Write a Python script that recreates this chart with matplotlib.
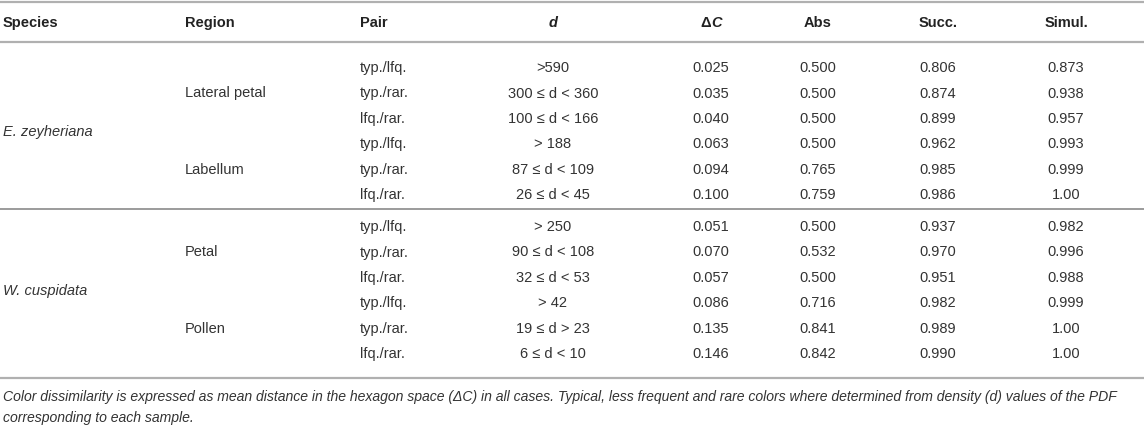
import matplotlib.pyplot as plt

plt.rcParams["font.family"] = ["Liberation Sans", "DejaVu Sans"]

species = ["E. zeyheriana", "W. cuspidata"]
regions = ["Lateral petal", "Labellum", "Petal", "Pollen"]
pairs = ["typ./lfq.", "typ./rar.", "lfq./rar."] * 4
d_ranges = [">590", "300 ≤ d < 360", "100 ≤ d < 166",
            "> 188", "87 ≤ d < 109", "26 ≤ d < 45",
            "> 250", "90 ≤ d < 108", "32 ≤ d < 53",
            "> 42", "19 ≤ d > 23", "6 ≤ d < 10"]
delta_c = [0.025, 0.035, 0.040, 0.063, 0.094, 0.100,
           0.051, 0.070, 0.057, 0.086, 0.135, 0.146]
abs_vals = [0.500, 0.500, 0.500, 0.500, 0.765, 0.759,
            0.500, 0.532, 0.500, 0.716, 0.841, 0.842]
succ = [0.806, 0.874, 0.899, 0.962, 0.985, 0.986,
        0.937, 0.970, 0.951, 0.982, 0.989, 0.990]
simul = [0.873, 0.938, 0.957, 0.993, 0.999, 1.00,
         0.982, 0.996, 0.988, 0.999, 1.00, 1.00]
footnote = ["Color dissimilarity is expressed as mean distance in the hexagon space (ΔC) in all cases. "
            "Typical, less frequent and rare colors where determined from density (d) values of the PDF",
            "corresponding to each sample."]


def fmt(v):
    return "1.00" if v == 1 else f"{v:.3f}"


W, H = 1144, 427
fig = plt.figure(figsize=(W / 100, H / 100), dpi=100)
ax = fig.add_axes([0, 0, 1, 1])
ax.set_xlim(0, W)
ax.set_ylim(H, 0)
ax.axis("off")

txt = "#333333"
fs = 10.5

# column positions (pixels)
x_species, x_region, x_pair = 3, 185, 360
x_d, x_dc, x_abs, x_succ, x_sim = 553, 711, 818, 938, 1066

# horizontal rules
ax.plot([0, W], [3, 3], color="#b0b0b0", lw=1.6)
ax.plot([0, W], [43, 43], color="#b0b0b0", lw=1.6)
ax.plot([0, W], [210, 210], color="#8a8a8a", lw=1.2)
ax.plot([0, W], [379, 379], color="#b0b0b0", lw=1.6)

# header
hy = 23
kw = dict(fontsize=fs, color="#222222", fontweight="bold", va="center")
ax.text(x_species, hy, "Species", ha="left", **kw)
ax.text(x_region, hy, "Region", ha="left", **kw)
ax.text(x_pair, hy, "Pair", ha="left", **kw)
ax.text(x_d, hy, "d", ha="center", style="italic", **kw)
ax.text(x_dc, hy, "Δ", ha="right", **kw)
ax.text(x_dc, hy, "C", ha="left", style="italic", **kw)
ax.text(x_abs, hy, "Abs", ha="center", **kw)
ax.text(x_succ, hy, "Succ.", ha="center", **kw)
ax.text(x_sim, hy, "Simul.", ha="center", **kw)

# body rows
row_y = [68, 93.5, 119, 144.5, 170, 195.5,
         227, 252.5, 278, 303.5, 329, 354.5]
kw = dict(fontsize=fs, color=txt, va="center")
for i, y in enumerate(row_y):
    ax.text(x_pair, y, pairs[i], ha="left", **kw)
    ax.text(x_d, y, d_ranges[i], ha="center", **kw)
    ax.text(x_dc, y, fmt(delta_c[i]), ha="center", **kw)
    ax.text(x_abs, y, fmt(abs_vals[i]), ha="center", **kw)
    ax.text(x_succ, y, fmt(succ[i]), ha="center", **kw)
    ax.text(x_sim, y, fmt(simul[i]), ha="center", **kw)

for j, reg in enumerate(regions):
    ax.text(x_region, row_y[3 * j + 1], reg, ha="left", **kw)

for k, sp in enumerate(species):
    ys = row_y[6 * k:6 * k + 6]
    ax.text(x_species, (ys[2] + ys[3]) / 2, sp, ha="left", style="italic", **kw)

# footnote
kw["fontsize"] = 10.05
ax.text(3, 397, footnote[0], ha="left", style="italic", **kw)
ax.text(3, 418, footnote[1], ha="left", style="italic", **kw)

fig.savefig("out.png", dpi=100)
